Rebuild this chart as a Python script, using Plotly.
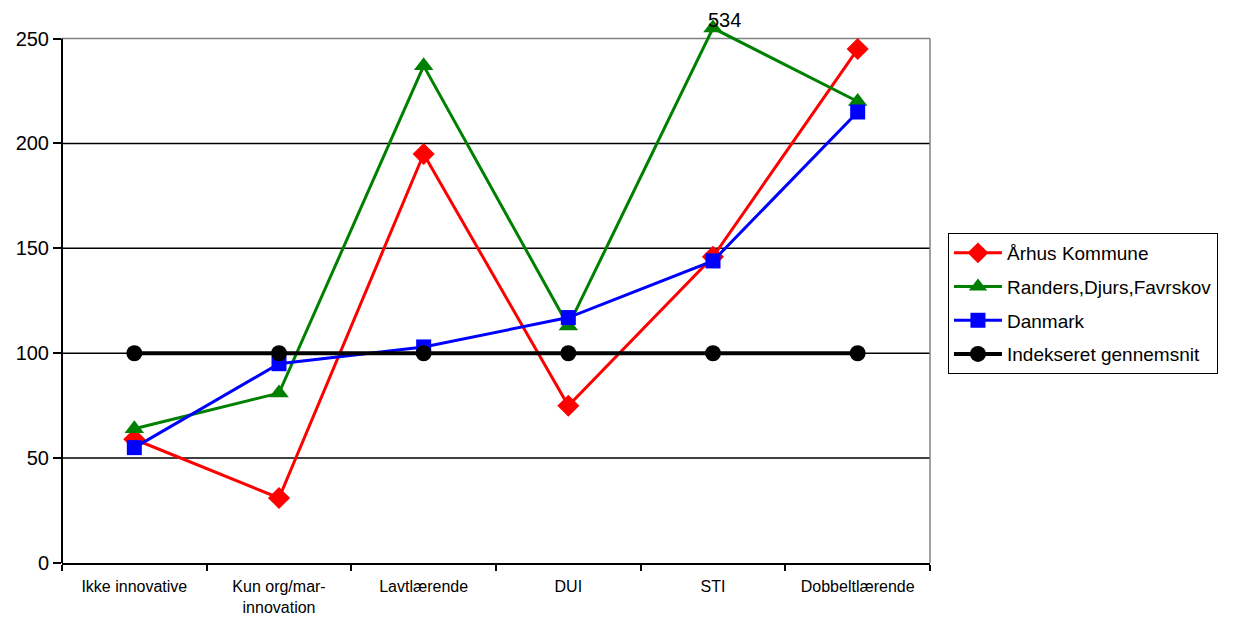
import numpy as np
import plotly.graph_objects as go

# Categories and indexed values (average = 100)
categories = ["Ikke innovative", "Kun org/mar-<br>innovation", "Lavtlærende", "DUI", "STI", "Dobbeltlærende"]
aarhus = [59, 31, 195, 75, 146, 245]
randers = [64, 81, 237, 113, 534, 220]
danmark = [55, 95, 103, 117, 144, 215]
gennemsnit = [100, 100, 100, 100, 100, 100]

y_ticks = [0, 50, 100, 150, 200, 250]
AXIS_MAX = 250
CEILING = 255  # off-scale values are drawn just past the top of the frame

series = [
    ("Århus Kommune", aarhus, "#FF0000", "diamond", 17, 3),
    ("Randers,Djurs,Favrskov", randers, "#008000", "triangle-up", 17, 3),
    ("Danmark", danmark, "#0000FF", "square", 15, 3),
    ("Indekseret gennemsnit", gennemsnit, "#000000", "circle", 16, 4),
]

fig = go.Figure()
for name, vals, color, symbol, msize, lw in series:
    vals = np.asarray(vals, dtype=float)
    fig.add_trace(go.Scatter(
        x=categories,
        y=np.minimum(vals, CEILING),
        name=name,
        legendgroup=name,
        mode="lines+markers",
        line=dict(color=color, width=lw),
        marker=dict(color=color, symbol=symbol, size=msize),
        cliponaxis=False,
    ))

# Label for the off-scale point
for cat, v in zip(categories, randers):
    if v > AXIS_MAX:
        fig.add_annotation(x=cat, y=min(v, CEILING), text=str(v), showarrow=False,
                           yshift=8, xshift=11,
                           font=dict(family="Liberation Sans, Arial", size=20, color="black"))

# Horizontal gridlines and frame
for t in y_ticks[1:]:
    fig.add_shape(type="line", xref="paper", yref="y", x0=0, x1=1, y0=t, y1=t,
                  line=dict(color="#808080" if t == AXIS_MAX else "black", width=1.5),
                  layer="below")
fig.add_shape(type="line", xref="paper", yref="y", x0=1, x1=1, y0=0, y1=AXIS_MAX,
              line=dict(color="#808080", width=1.5), layer="below")
fig.add_shape(type="line", xref="paper", yref="y", x0=0, x1=0, y0=0, y1=AXIS_MAX,
              line=dict(color="black", width=2), layer="above")

fig.update_layout(
    width=1246, height=619,
    margin=dict(l=62, r=316, t=26, b=56),
    paper_bgcolor="white", plot_bgcolor="white",
    font=dict(family="Liberation Sans, Arial", color="black"),
    showlegend=True,
    legend=dict(
        x=1.0207, y=0.6145, xanchor="left", yanchor="top",
        bordercolor="black", borderwidth=1,
        font=dict(size=19, family="Liberation Sans, Arial"),
        itemwidth=48, tracegroupgap=6,
        entrywidth=306, entrywidthmode="pixels",
    ),
)
fig.update_xaxes(
    type="category", tickson="boundaries", ticks="outside", ticklen=6, tickwidth=1.5,
    tickcolor="black", showline=True, linecolor="black", linewidth=2,
    showgrid=False, tickfont=dict(size=16), range=[-0.5, 5.5], ticklabelstandoff=8,
    automargin=False,
)
fig.update_yaxes(
    range=[0, 256], tickvals=y_ticks, ticks="outside", ticklen=8, tickwidth=1.5,
    tickcolor="black", showline=False, showgrid=False, zeroline=False,
    tickfont=dict(size=20), automargin=False,
)

fig.write_html("out.html")
